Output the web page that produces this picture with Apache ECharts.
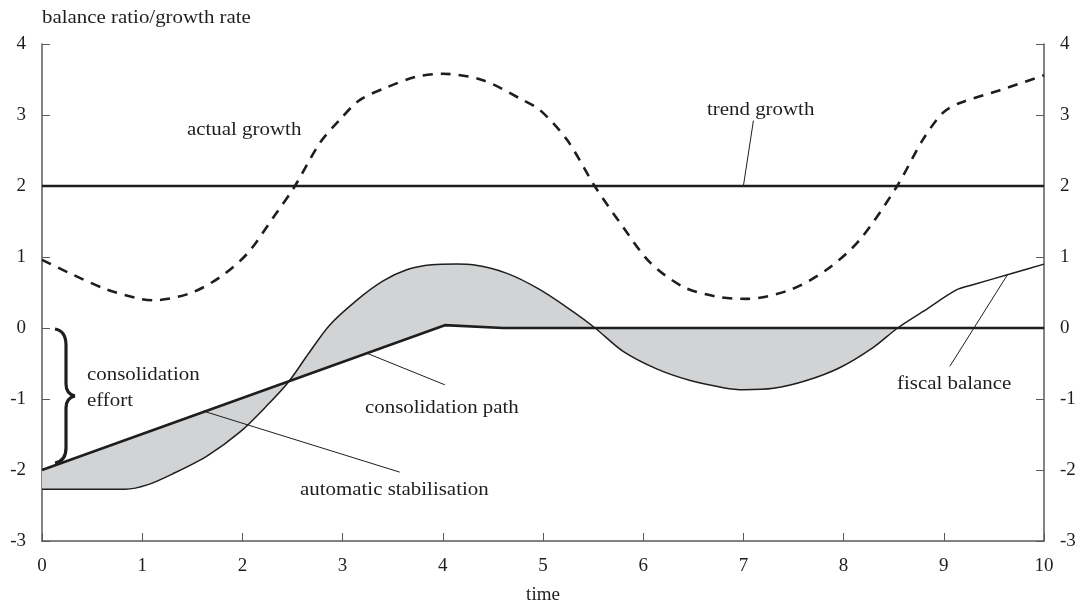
<!DOCTYPE html>
<html>
<head>
<meta charset="utf-8">
<script src="https://cdn.jsdelivr.net/npm/echarts@6/dist/echarts.min.js"></script>
<style>
html,body{margin:0;padding:0;background:#fff;}
#chart{width:1084px;height:606px;}
</style>
</head>
<body>
<div id="chart"></div>
<script>
// ---- data ----
const xTicks = [0,1,2,3,4,5,6,7,8,9,10];
const yTicks = [-3,-2,-1,0,1,2,3,4];
const trendGrowth = [[0,2],[10,2]];
const actualGrowth = [[0,0.96],[0.31,0.75],[0.65,0.54],[0.98,0.41],[1.11,0.39],[1.48,0.49],[1.78,0.72],[2.05,1.05],[2.31,1.56],[2.52,1.99],[2.77,2.6],[2.97,2.93],[3.17,3.21],[3.44,3.39],[3.74,3.54],[4.0,3.58],[4.4,3.49],[4.8,3.21],[4.97,3.07],[5.24,2.65],[5.52,1.99],[5.8,1.42],[6.07,0.92],[6.4,0.58],[6.74,0.44],[7.04,0.41],[7.47,0.54],[7.83,0.82],[8.16,1.24],[8.53,1.99],[8.79,2.65],[8.99,3.03],[9.16,3.17],[9.56,3.35],[10,3.56]];
const fiscalBalance = [[0,-2.27],[0.83,-2.27],[1.05,-2.21],[1.31,-2.05],[1.65,-1.8],[1.98,-1.46],[2.24,-1.1],[2.46,-0.76],[2.66,-0.36],[2.87,0.04],[3.14,0.39],[3.4,0.66],[3.64,0.82],[3.89,0.89],[4.14,0.9],[4.3,0.89],[4.64,0.77],[4.97,0.54],[5.3,0.23],[5.52,0.0],[5.8,-0.33],[6.14,-0.58],[6.47,-0.74],[6.8,-0.84],[7.0,-0.87],[7.3,-0.85],[7.63,-0.74],[7.96,-0.56],[8.29,-0.28],[8.54,0.0],[8.79,0.23],[9.13,0.54],[9.29,0.61],[9.66,0.76],[10,0.9]];
const consolidationPath = [[0,-2],[4.02,0.04],[4.6,0],[10,0]];
const shadeEnd = 8.54;
const leaderTrend = [[7.1,2.92],[7.0,2.0]];
const leaderPath = [[3.25,-0.36],[4.02,-0.8]];
const leaderStab = [[1.61,-1.17],[3.57,-2.03]];
const leaderFiscal = [[9.64,0.76],[9.06,-0.54]];

function interp(arr, x){
  for(let i=0;i<arr.length-1;i++){
    const a=arr[i], b=arr[i+1];
    if(x>=a[0] && x<=b[0]){ const t=(x-a[0])/(b[0]-a[0]); return a[1]+t*(b[1]-a[1]); }
  }
  return arr[arr.length-1][1];
}

const chart = echarts.init(document.getElementById('chart'), null, {renderer:'canvas'});
const serif = '"Liberation Serif","DejaVu Serif",serif';
const axisCol = '#5a5a5a';
const ink = '#1e1e1e';

function leader(d){
  return {type:'line', data:d, symbol:'none', silent:true, z:4,
    lineStyle:{color:ink, width:1}};
}
function label(txt, x, y){
  return {type:'text', x:x, y:y, scaleX:1.1,
    style:{text:txt, font:'19px '+serif, fill:ink, textVerticalAlign:'middle'}};
}
const braceStyle = {fill:null, stroke:ink, lineWidth:3.2};
function bz(x1,y1,cx,cy,x2,y2){ return {type:'bezierCurve', shape:{x1:x1,y1:y1,cpx1:cx,cpy1:cy,x2:x2,y2:y2}, style:braceStyle}; }
function ln(x1,y1,x2,y2){ return {type:'line', shape:{x1:x1,y1:y1,x2:x2,y2:y2}, style:braceStyle}; }
const tickLabel = {fontFamily:serif, fontSize:19, color:ink, margin:16};

const option = {
  animation:false,
  backgroundColor:'#fff',
  grid:{left:42,right:40,top:44,bottom:65, outerBoundsMode:'none', containLabel:false},
  xAxis:{type:'value', min:0, max:10, interval:1,
    name:'time', nameLocation:'middle', nameGap:45,
    nameTextStyle:{fontFamily:serif, fontSize:19, color:ink},
    axisLine:{show:true, onZero:false, lineStyle:{color:axisCol, width:1.5}},
    axisTick:{show:true, inside:true, length:8, lineStyle:{color:axisCol, width:1}},
    axisLabel:tickLabel,
    splitLine:{show:false}},
  yAxis:[
    {type:'value', min:-3, max:4, interval:1, position:'left',
     axisLine:{show:true, onZero:false, lineStyle:{color:axisCol, width:1.5}},
     axisTick:{show:true, inside:true, length:8, lineStyle:{color:axisCol, width:1}},
     axisLabel:tickLabel,
     splitLine:{show:false}},
    {type:'value', min:-3, max:4, interval:1, position:'right',
     axisLine:{show:true, onZero:false, lineStyle:{color:axisCol, width:1.5}},
     axisTick:{show:true, inside:true, length:8, lineStyle:{color:axisCol, width:1}},
     axisLabel:tickLabel,
     splitLine:{show:false}}
  ],
  series:[
    {type:'custom', data:[[0,0]], silent:true, z:1,
     renderItem:function(params, api){
       const top = fiscalBalance.filter(p=>p[0]<=shadeEnd).map(p=>api.coord(p));
       const bottom = [[shadeEnd, interp(consolidationPath, shadeEnd)]]
         .concat(consolidationPath.filter(p=>p[0]<shadeEnd).slice().reverse())
         .map(p=>api.coord(p));
       return {type:'polygon', shape:{points: top.concat(bottom)}, style:{fill:'#d2d3d5', stroke:null}};
     }},
    {name:'trend growth', type:'line', data:trendGrowth, symbol:'none', z:3,
     lineStyle:{color:ink, width:2.6}},
    {name:'actual growth', type:'line', data:actualGrowth, symbol:'none', smooth:0.3, z:3,
     lineStyle:{color:ink, width:2.6, type:[10,8]}},
    {name:'fiscal balance', type:'line', data:fiscalBalance, symbol:'none', smooth:0.3, z:3,
     lineStyle:{color:ink, width:1.5}},
    {name:'consolidation path', type:'line', data:consolidationPath, symbol:'none', z:3,
     lineStyle:{color:ink, width:2.6}},
    leader(leaderTrend), leader(leaderPath), leader(leaderStab), leader(leaderFiscal)
  ],
  graphic:[
    label('balance ratio/growth rate', 42, 18),
    label('actual growth', 187, 130),
    label('trend growth', 707, 110),
    label('consolidation', 87, 375),
    label('effort', 87, 401),
    label('consolidation path', 365, 408),
    label('automatic stabilisation', 300, 490),
    label('fiscal balance', 897, 384),
    bz(55,329,66,331,66,345), ln(66,345,66,384), bz(66,384,66,394,75,396),
    bz(75,396,66,398,66,408), ln(66,408,66,448), bz(66,448,66,461,55,463)
  ]
};
chart.setOption(option);
</script>
</body>
</html>
